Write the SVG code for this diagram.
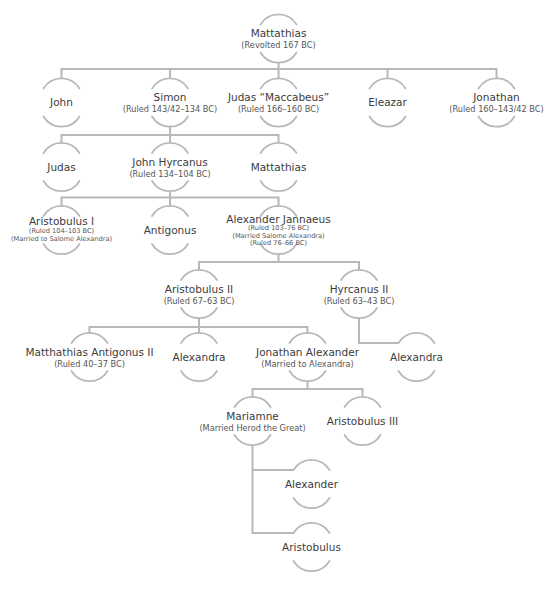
<svg xmlns="http://www.w3.org/2000/svg" xmlns:xlink="http://www.w3.org/1999/xlink" width="553" height="600" viewBox="0 0 553 600">
<style>
  .ring { fill: none; stroke: #b8b8b8; stroke-width: 1.8; stroke-linecap: round; }
  .conn path { fill: none; stroke: #b8b8b8; stroke-width: 2; }
  text { font-family: "DejaVu Sans", "Verdana", sans-serif; text-anchor: middle; }
  .m { font-size: 10.5px; fill: #3c3c3c; }
  .s { font-size: 8.2px; fill: #555; }
  .t { font-size: 6.6px; fill: #555; }
</style>
<defs>
  <path id="ring" class="ring" d="M-18 -14 A21 21 0 0 1 18 -14 M-18 14 A21 21 0 0 0 18 14"/>
</defs>
<rect width="553" height="600" fill="#fff"/>

<g id="connectors" class="conn">
  <path d="M278.5 62.5 V69 M61.5 78.5 V69 H496.5 V78.5 M170 69 V78.5 M278.5 69 V78.5 M387.5 69 V78.5"/>
  <path d="M170 126.5 V135 M61.5 143 V135 H278.5 V143 M170 135 V143"/>
  <path d="M170 191 V197.5 M61.5 206 V197.5 H278.5 V206 M170 197.5 V206"/>
  <path d="M278.5 254 V262 M199 270 V262 H359 V270"/>
  <path d="M199 318 V327 M89.5 333 V327 H307.5 V333 M199 327 V333"/>
  <path d="M359 318 V343 H398.5"/>
  <path d="M307.5 381 V389 M252.5 397 V389 H362.5 V397"/>
  <path d="M252.5 445 V533 H293.5 M252.5 470 H293.5"/>
</g>

<g id="n-mattathias" transform="translate(278.5,38.5)"><use href="#ring"/><text class="m" y="-1.5">Mattathias</text><text class="s" y="9.5">(Revolted 167 BC)</text></g>

<g id="n-john" transform="translate(61.5,102.5)"><use href="#ring"/><text class="m" y="3.8">John</text></g>
<g id="n-simon" transform="translate(170,102.5)"><use href="#ring"/><text class="m" y="-1.5">Simon</text><text class="s" y="9.5">(Ruled 143/42–134 BC)</text></g>
<g id="n-judas-maccabeus" transform="translate(278.5,102.5)"><use href="#ring"/><text class="m" y="-1.5">Judas “Maccabeus”</text><text class="s" y="9.5">(Ruled 166–160 BC)</text></g>
<g id="n-eleazar" transform="translate(387.5,102.5)"><use href="#ring"/><text class="m" y="3.8">Eleazar</text></g>
<g id="n-jonathan" transform="translate(496.5,102.5)"><use href="#ring"/><text class="m" y="-1.5">Jonathan</text><text class="s" y="9.5">(Ruled 160–143/42 BC)</text></g>

<g id="n-judas" transform="translate(61.5,167)"><use href="#ring"/><text class="m" y="3.8">Judas</text></g>
<g id="n-john-hyrcanus" transform="translate(170,167)"><use href="#ring"/><text class="m" y="-1.5">John Hyrcanus</text><text class="s" y="9.5">(Ruled 134–104 BC)</text></g>
<g id="n-mattathias-2" transform="translate(278.5,167)"><use href="#ring"/><text class="m" y="3.8">Mattathias</text></g>

<g id="n-aristobulus-i" transform="translate(61.5,230)"><use href="#ring"/><text class="m" y="-5">Aristobulus I</text><text class="t" y="2.5">(Ruled 104–103 BC)</text><text class="t" y="10.5">(Married to Salome Alexandra)</text></g>
<g id="n-antigonus" transform="translate(170,230)"><use href="#ring"/><text class="m" y="3.8">Antigonus</text></g>
<g id="n-alexander-jannaeus" transform="translate(278.5,230)"><use href="#ring"/><text class="m" y="-7">Alexander Jannaeus</text><text class="t" y="-0.5">(Ruled 103–76 BC)</text><text class="t" y="7.5">(Married Salome Alexandra)</text><text class="t" y="15">(Ruled 76–66 BC)</text></g>

<g id="n-aristobulus-ii" transform="translate(199,294)"><use href="#ring"/><text class="m" y="-1.5">Aristobulus II</text><text class="s" y="9.5">(Ruled 67–63 BC)</text></g>
<g id="n-hyrcanus-ii" transform="translate(359,294)"><use href="#ring"/><text class="m" y="-1.5">Hyrcanus II</text><text class="s" y="9.5">(Ruled 63–43 BC)</text></g>

<g id="n-matthathias-antigonus-ii" transform="translate(89.5,357)"><use href="#ring"/><text class="m" y="-1.5">Matthathias Antigonus II</text><text class="s" y="9.5">(Ruled 40–37 BC)</text></g>
<g id="n-alexandra" transform="translate(199,357)"><use href="#ring"/><text class="m" y="3.8">Alexandra</text></g>
<g id="n-jonathan-alexander" transform="translate(307.5,357)"><use href="#ring"/><text class="m" y="-1.5">Jonathan Alexander</text><text class="s" y="9.5">(Married to Alexandra)</text></g>
<g id="n-alexandra-2" transform="translate(416.5,357)"><use href="#ring"/><text class="m" y="3.8">Alexandra</text></g>

<g id="n-mariamne" transform="translate(252.5,421)"><use href="#ring"/><text class="m" y="-1.5">Mariamne</text><text class="s" y="9.5">(Married Herod the Great)</text></g>
<g id="n-aristobulus-iii" transform="translate(362.5,421)"><use href="#ring"/><text class="m" y="3.8">Aristobulus III</text></g>

<g id="n-alexander" transform="translate(311.5,484)"><use href="#ring"/><text class="m" y="3.8">Alexander</text></g>
<g id="n-aristobulus" transform="translate(311.5,547)"><use href="#ring"/><text class="m" y="3.8">Aristobulus</text></g>
</svg>
